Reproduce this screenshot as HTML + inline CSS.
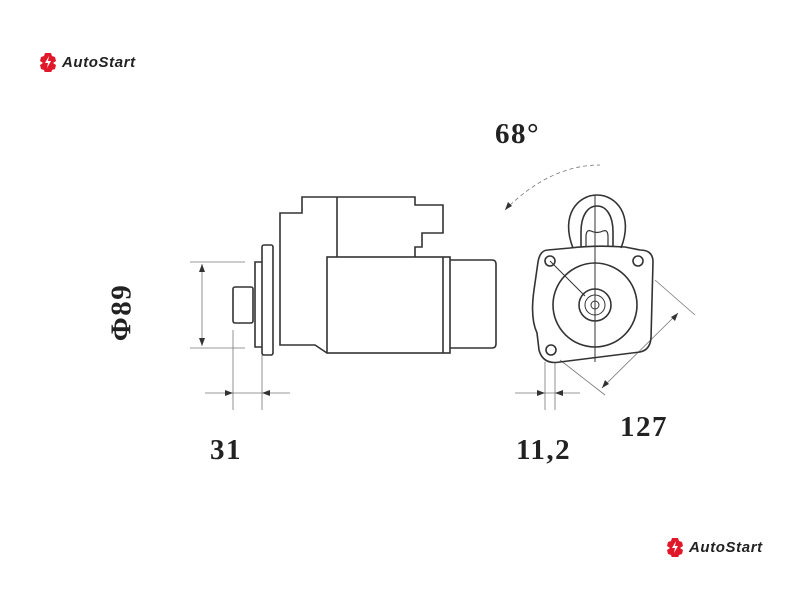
<!DOCTYPE html>
<html><head><meta charset="utf-8"><style>
html,body{margin:0;padding:0;background:#fff;}
body{width:800px;height:600px;position:relative;overflow:hidden;font-family:"Liberation Sans",sans-serif;}
.logo{position:absolute;display:flex;align-items:center;gap:4px;font-style:italic;font-weight:bold;font-size:15px;letter-spacing:0.6px;color:#222;}
.t{position:absolute;font-family:"Liberation Serif",serif;font-weight:bold;font-size:29px;letter-spacing:1.5px;color:#222;}
</style></head><body>
<div class="logo" style="left:38px;top:52px;"><svg width="20" height="20" viewBox="0 0 20 20"><path d="M7,1h6l1,3l3,1l1,4l-3,2l3,2l-1,4l-3,1l-1,3H7l-1-3l-3-1l-1-4l3-2l-3-2l1-4l3-1z" fill="#e0182a"/><path d="M11,4L7,11h3l-1,5l4-7h-3z" fill="#fff"/></svg>AutoStart</div>
<div class="logo" style="left:665px;top:537px;"><svg width="20" height="20" viewBox="0 0 20 20"><path d="M7,1h6l1,3l3,1l1,4l-3,2l3,2l-1,4l-3,1l-1,3H7l-1-3l-3-1l-1-4l3-2l-3-2l1-4l3-1z" fill="#e0182a"/><path d="M11,4L7,11h3l-1,5l4-7h-3z" fill="#fff"/></svg>AutoStart</div>
<svg width="800" height="600" style="position:absolute;left:0;top:0" fill="none" stroke="#333" stroke-width="1.6">
<path d="M280,245 V213 H302 V197 H415 V205 H443 V233 H422 V247 H415 V257"/>
<line x1="337" y1="197" x2="337" y2="257"/>
<rect x="327" y="257" width="123" height="96"/>
<line x1="443" y1="257" x2="443" y2="353"/>
<path d="M450,260 H492 Q496,260 496,264 V344 Q496,348 492,348 H450"/>
<path d="M280,245 V345 H315 L327,353"/>
<rect x="262" y="245" width="11" height="110" rx="2"/>
<path d="M262,262 H255 V347 H262"/>
<rect x="233" y="287" width="20" height="36" rx="2"/>
<g stroke="#777" stroke-width="0.8">
<line x1="190" y1="262" x2="245" y2="262"/><line x1="190" y1="348" x2="245" y2="348"/>
<line x1="202" y1="264" x2="202" y2="346"/>
<line x1="233" y1="330" x2="233" y2="410"/><line x1="262" y1="355" x2="262" y2="410"/>
<line x1="205" y1="393" x2="290" y2="393"/>
<line x1="545" y1="362" x2="545" y2="410"/><line x1="555" y1="362" x2="555" y2="410"/>
<line x1="515" y1="393" x2="580" y2="393"/>
<line x1="560" y1="360" x2="605" y2="395"/><line x1="655" y1="280" x2="695" y2="315"/>
<line x1="602" y1="388" x2="678" y2="313"/>
<path d="M505,210 Q550,165 600,165" stroke-dasharray="4,3"/>
</g>
<g fill="#333" stroke="none">
<path d="M202,264 l-3,8 h6z"/><path d="M202,346 l-3,-8 h6z"/>
<path d="M233,393 l-8,-3 v6z"/><path d="M262,393 l8,-3 v6z"/>
<path d="M545,393 l-8,-3 v6z"/><path d="M555,393 l8,-3 v6z"/>
<path d="M678,313 l-3,8 l-4,-4z"/><path d="M602,388 l3,-8 l4,4z"/>
<path d="M505,210 l3,-8 l4,4z"/>
</g>
<path d="M573,248 C560,215 578,195 597,195 C616,195 634,215 621,248"/>
<path d="M581,247 V232 C581,215 588,206 597,206 C606,206 613,215 613,232 V247"/>
<path d="M586,246 V237 Q586,229 591,231 Q597,234 603,231 Q608,229 608,237 V246" stroke-width="1.2"/>
<path d="M548,250 Q540,250 538,262 L534,290 Q530,318 537,333 L539,350 Q543,365 560,362 L640,352 Q650,350 651,338 L653,262 Q653,250 640,250 L625,247 Q595,245 570,248 Z"/>
<circle cx="595" cy="305" r="42"/>
<circle cx="595" cy="305" r="16"/>
<circle cx="595" cy="305" r="10" stroke-width="1"/>
<circle cx="595" cy="305" r="4" stroke-width="1"/>
<circle cx="550" cy="261" r="5"/><circle cx="638" cy="261" r="5"/><circle cx="551" cy="350" r="5"/>
<line x1="595" y1="195" x2="595" y2="362" stroke-width="1"/>
<line x1="550" y1="261" x2="585" y2="296" stroke-width="1"/>
</svg>
<div class="t" style="left:495px;top:118px;">68°</div>
<div class="t" style="left:90px;top:296px;transform:rotate(-90deg);transform-origin:center;width:64px;text-align:center;">Φ89</div>
<div class="t" style="left:210px;top:434px;">31</div>
<div class="t" style="left:516px;top:434px;">11,2</div>
<div class="t" style="left:620px;top:411px;">127</div>
</body></html>
